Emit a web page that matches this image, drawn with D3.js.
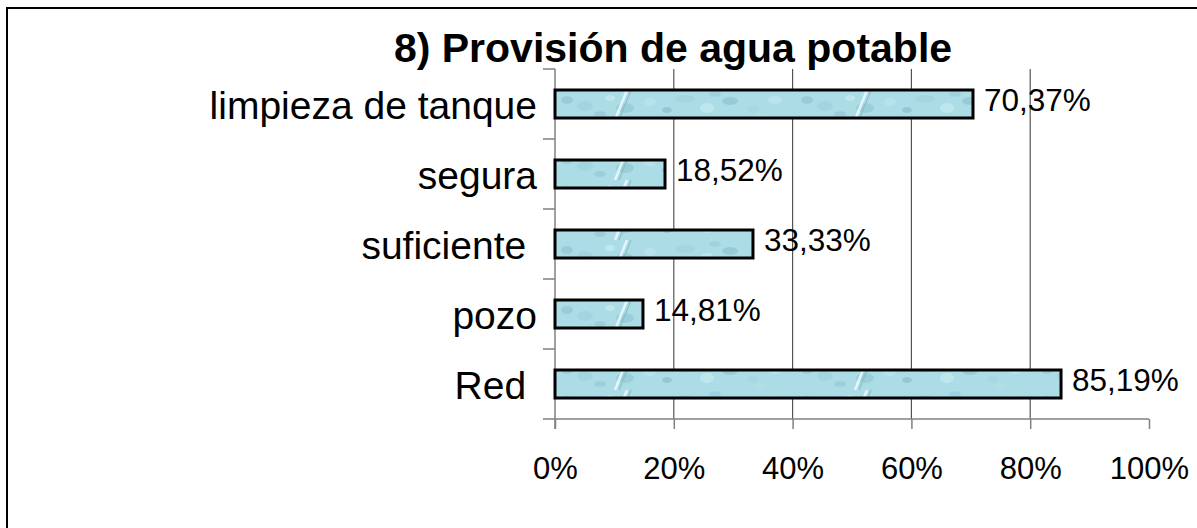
<!DOCTYPE html>
<html>
<head>
<meta charset="utf-8">
<script src="https://cdn.jsdelivr.net/npm/d3@7"></script>
<style>
  html, body { margin: 0; padding: 0; background: #fff; }
  svg { display: block; }
  text { font-family: "Liberation Sans", Arial, sans-serif; white-space: pre; }
</style>
</head>
<body>
<svg id="chart" width="1197" height="528"></svg>
<script>
const title = "8) Provisión de agua potable";
const categories = ["limpieza de tanque", "segura", "suficiente ", "pozo", "Red "];
const values = [70.37, 18.52, 33.33, 14.81, 85.19];
const xTickValues = [0, 20, 40, 60, 80, 100];
const gridValues = [20, 40, 60, 80];

const svg = d3.select("#chart");
const pLeft = 555, pRight = 1149, pTop = 69, pBottom = 419;

const x = d3.scaleLinear().domain([0, 100]).range([pLeft, pRight]);
const y = d3.scaleBand().domain(categories).range([pTop, pBottom]).paddingInner(0.6).paddingOuter(0.3);
const yb = d3.scaleBand().domain(categories).range([pTop, pBottom]);

// pattern (water texture)
const defs = svg.append("defs");
const pat = defs.append("pattern").attr("id", "water").attr("patternUnits", "userSpaceOnUse")
  .attr("x", pLeft).attr("y", 0).attr("width", 240).attr("height", 30);
pat.append("rect").attr("width", 240).attr("height", 30).attr("fill", "#acdde7");
const blobs = [[12,10,6,4,"#93c9d4"],[30,16,8,5,"#a0d3dd"],[55,8,5,3,"#c4eaf0"],[70,18,9,5,"#96cbd6"],
  [95,12,6,4,"#bae4ec"],[112,20,5,3,"#8fc4cf"],[130,9,10,4,"#a2d5df"],[152,18,7,5,"#c3e9ef"],
  [175,11,8,4,"#92c7d2"],[198,19,6,4,"#a5d7e0"],[220,10,7,4,"#bde6ee"],[45,24,6,3,"#98ccd7"],
  [160,4,6,3,"#9bcfd9"],[205,26,7,3,"#b3e0e8"]];
blobs.forEach(b => pat.append("ellipse").attr("cx", b[0]).attr("cy", b[1]).attr("rx", b[2]).attr("ry", b[3]).attr("fill", b[4]).attr("opacity", 0.8));
pat.append("path").attr("d", "M60,30 L72,0").attr("stroke", "#e4f6f9").attr("stroke-width", 2.5);
pat.append("path").attr("d", "M64,30 L76,0").attr("stroke", "#86c0cc").attr("stroke-width", 1.2);

// outer border
svg.append("rect").attr("x", 7).attr("y", 8).attr("width", 1200).attr("height", 540)
  .attr("fill", "none").attr("stroke", "#000").attr("stroke-width", 2);

// title
svg.append("text").attr("x", 673).attr("y", 62).attr("text-anchor", "middle")
  .attr("font-size", 41).attr("font-weight", "bold").attr("fill", "#000").text(title);

// gridlines
svg.append("g").selectAll("line").data(gridValues).join("line")
  .attr("x1", d => x(d)).attr("x2", d => x(d)).attr("y1", pTop).attr("y2", pBottom)
  .attr("stroke", "#555").attr("stroke-width", 1.2);

// x axis
const xAxis = d3.axisBottom(x).tickValues(xTickValues).tickSize(10).tickPadding(28)
  .tickFormat(d => d + "%");
const gx = svg.append("g").attr("transform", `translate(0,${pBottom})`).call(xAxis);
gx.select(".domain").attr("stroke", "#808080").attr("stroke-width", 1.5).attr("d", `M${pLeft - 12},0H${pRight}`);
gx.selectAll(".tick line").attr("stroke", "#808080").attr("stroke-width", 1.5);
gx.selectAll(".tick text").attr("font-size", 31).attr("fill", "#000")
  .attr("font-family", "'Liberation Sans', Arial, sans-serif").attr("dy", "0.71em");

// y axis (category ticks on band boundaries)
svg.append("line").attr("x1", pLeft).attr("x2", pLeft).attr("y1", pTop).attr("y2", pBottom + 10)
  .attr("stroke", "#808080").attr("stroke-width", 1.5);
svg.append("g").selectAll("line").data(categories).join("line")
  .attr("x1", pLeft - 12).attr("x2", pLeft).attr("y1", d => yb(d)).attr("y2", d => yb(d))
  .attr("stroke", "#808080").attr("stroke-width", 1.5);

// category labels
svg.append("g").selectAll("text").data(categories).join("text")
  .attr("x", 537).attr("y", d => yb(d) + yb.bandwidth() / 2 + 15)
  .attr("text-anchor", "end").attr("font-size", 39).attr("fill", "#000").text(d => d);

// bars
svg.append("g").selectAll("rect").data(values).join("rect")
  .attr("x", x(0)).attr("y", (d, i) => y(categories[i]))
  .attr("width", d => x(d) - x(0)).attr("height", y.bandwidth())
  .attr("fill", "url(#water)").attr("stroke", "#000").attr("stroke-width", 3);

// value labels
svg.append("g").selectAll("text").data(values).join("text")
  .attr("x", d => x(d) + 11)
  .attr("y", (d, i) => yb(categories[i]) + yb.bandwidth() / 2 + 6.5)
  .attr("font-size", 31.5).attr("fill", "#000")
  .text(d => d.toFixed(2).replace(".", ",") + "%");
</script>
</body>
</html>
